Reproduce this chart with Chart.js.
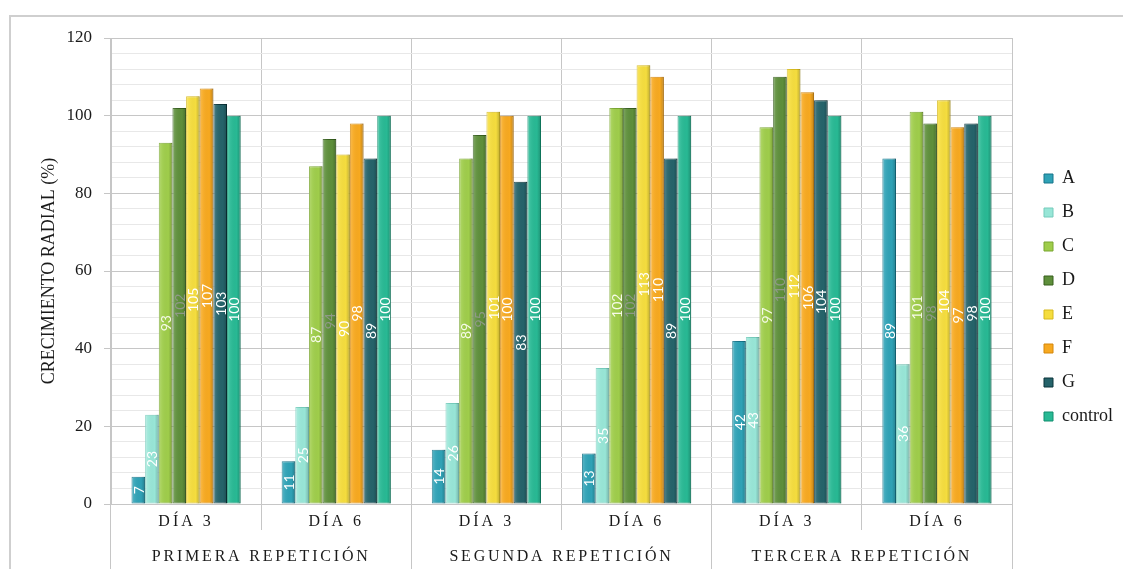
<!DOCTYPE html>
<html>
<head>
<meta charset="utf-8">
<title>Crecimiento radial</title>
<script src="https://cdn.jsdelivr.net/npm/chart.js@4.4.1/dist/chart.umd.min.js"></script>
<style>
  html, body { margin: 0; padding: 0; background: #ffffff; }
  #wrap { position: relative; width: 1123px; height: 569px; overflow: hidden; }
  #frame {
    position: absolute; left: 9px; top: 15px; width: 1200px; height: 600px;
    border-top: 2px solid #cfcfcf; border-left: 2px solid #cfcfcf;
    box-sizing: border-box; pointer-events: none;
  }
  canvas { position: absolute; left: 0; top: 0; }
</style>
</head>
<body>
<div id="wrap">
  <canvas id="chart" width="1123" height="569"></canvas>
  <div id="frame"></div>
</div>
<script>
// Day labels (inner axis) and repetition labels (outer axis)
const days = ['DÍA 3', 'DÍA 6', 'DÍA 3', 'DÍA 6', 'DÍA 3', 'DÍA 6'];
const repetitions = ['PRIMERA REPETICIÓN', 'SEGUNDA REPETICIÓN', 'TERCERA REPETICIÓN'];

// Radial growth (%) per treatment
const seriesA       = [7, 11, 14, 13, 42, 89];
const seriesB       = [23, 25, 26, 35, 43, 36];
const seriesC       = [93, 87, 89, 102, 97, 101];
const seriesD       = [102, 94, 95, 102, 110, 98];
const seriesE       = [105, 90, 101, 113, 112, 104];
const seriesF       = [107, 98, 100, 110, 106, 97];
const seriesG       = [103, 89, 83, 89, 104, 98];
const seriesControl = [100, 100, 100, 100, 100, 100];

// Value axis
const yMin = 0;
const yMax = 120;
const yMinorStep = 4;
const yMajorStep = 20;

const SERIF = '"Liberation Serif", "Times New Roman", serif';
const LETTER_SPACING = { x: 3, xGroup: 2.8 };

// Category scale that draws its labels with extra letter spacing
class SpacedCategoryScale extends Chart.CategoryScale {
  drawLabels(area) {
    const ctx = this.ctx;
    ctx.save();
    ctx.letterSpacing = (LETTER_SPACING[this.id] || 0) + 'px';
    super.drawLabels(area);
    ctx.restore();
  }
}
SpacedCategoryScale.id = 'spacedCategory';
SpacedCategoryScale.defaults = Chart.CategoryScale.defaults;
Chart.register(SpacedCategoryScale);

// Soft cylinder-like shading over each bar, then its value written inside, rotated
const barDecorations = {
  id: 'barDecorations',
  afterDatasetsDraw(chart) {
    const ctx = chart.ctx;
    chart.data.datasets.forEach((ds, i) => {
      const meta = chart.getDatasetMeta(i);
      if (meta.hidden) return;
      meta.data.forEach((bar) => {
        const half = bar.width / 2;
        const top = Math.min(bar.y, bar.base);
        const h = Math.abs(bar.base - bar.y);
        const g = ctx.createLinearGradient(bar.x - half, 0, bar.x + half, 0);
        g.addColorStop(0, 'rgba(255,255,255,0.22)');
        g.addColorStop(0.25, 'rgba(255,255,255,0.06)');
        g.addColorStop(0.7, 'rgba(0,0,0,0)');
        g.addColorStop(1, 'rgba(0,0,0,0.22)');
        ctx.save();
        ctx.fillStyle = g;
        ctx.fillRect(bar.x - half, top, bar.width, h);
        ctx.restore();
      });
    });
    chart.data.datasets.forEach((ds, i) => {
      const meta = chart.getDatasetMeta(i);
      if (meta.hidden) return;
      meta.data.forEach((bar, j) => {
        const cy = (bar.y + bar.base) / 2;
        ctx.save();
        ctx.translate(bar.x, cy);
        ctx.rotate(-Math.PI / 2);
        ctx.font = '14px Lato, "Open Sans", sans-serif';
        ctx.fillStyle = ds.valueColor || '#ffffff';
        ctx.textAlign = 'center';
        ctx.textBaseline = 'middle';
        ctx.fillText(String(ds.data[j]), 0, 1);
        ctx.restore();
      });
    });
  }
};

// Legend sits a little further right and higher than the default placement
const legendOffset = {
  id: 'legendOffset',
  afterLayout(chart) {
    const lg = chart.legend;
    if (!lg) return;
    lg.left += 16; lg.right += 16;
    lg.top -= 6; lg.bottom -= 6;
  }
};

function series(label, data, fill, edge, valueColor) {
  return {
    label, data,
    backgroundColor: fill,
    borderColor: edge,
    borderWidth: 1,
    borderSkipped: false,
    valueColor
  };
}

const isMajor = v => v % yMajorStep === 0;

new Chart(document.getElementById('chart'), {
  type: 'bar',
  data: {
    labels: days,
    datasets: [
      series('A',       seriesA,       '#2fa2b6', '#16758a', '#ffffff'),
      series('B',       seriesB,       '#98e6d7', '#74cbbb', '#ffffff'),
      series('C',       seriesC,       '#9fcd4b', '#79a630', '#f6fae8'),
      series('D',       seriesD,       '#5e8f3b', '#365f1d', '#8f9988'),
      series('E',       seriesE,       '#f5dd3e', '#d6b91c', '#ffffff'),
      series('F',       seriesF,       '#f7a920', '#d4860a', '#ffffff'),
      series('G',       seriesG,       '#25636a', '#0b343a', '#ffffff'),
      series('control', seriesControl, '#28b994', '#118e6e', '#ffffff')
    ]
  },
  options: {
    responsive: false,
    animation: false,
    devicePixelRatio: 1,
    layout: { padding: { left: 10, top: 38, right: 16, bottom: 0 } },
    datasets: {
      bar: { categoryPercentage: 0.727, barPercentage: 1.0 }
    },
    plugins: {
      tooltip: { enabled: false },
      legend: {
        position: 'right',
        align: 'center',
        labels: {
          boxWidth: 9,
          boxHeight: 9,
          padding: 16,
          color: '#1a1a1a',
          font: { family: SERIF, size: 18 }
        }
      }
    },
    scales: {
      x: {
        type: 'spacedCategory',
        position: 'bottom',
        offset: true,
        grid: {
          offset: true,
          color: '#c6c6c6',
          tickColor: '#c6c6c6',
          tickLength: 26,
          lineWidth: 1
        },
        border: { display: true, color: '#c6c6c6' },
        ticks: {
          autoSkip: false,
          maxRotation: 0,
          minRotation: 0,
          padding: -18,
          color: '#1a1a1a',
          font: { family: SERIF, size: 16 }
        },
        afterFit(scale) { scale.height = 26; }
      },
      xGroup: {
        type: 'spacedCategory',
        position: 'bottom',
        labels: repetitions,
        offset: true,
        grid: {
          offset: true,
          drawOnChartArea: false,
          color: '#c6c6c6',
          tickColor: '#c6c6c6',
          tickLength: 39,
          lineWidth: 1
        },
        border: { display: false },
        ticks: {
          autoSkip: false,
          maxRotation: 0,
          minRotation: 0,
          padding: -22,
          color: '#1a1a1a',
          font: { family: SERIF, size: 16 }
        },
        afterFit(scale) { scale.height = 39; }
      },
      y: {
        position: 'left',
        min: yMin,
        max: yMax,
        ticks: {
          stepSize: yMinorStep,
          autoSkip: false,
          padding: 12,
          color: '#1a1a1a',
          font: { family: SERIF, size: 17 },
          callback: v => (isMajor(v) ? v : '')
        },
        grid: {
          color: c => (isMajor(c.tick.value) ? '#c6c6c6' : '#e8e8e8'),
          tickColor: c => (isMajor(c.tick.value) ? '#c6c6c6' : 'rgba(0,0,0,0)'),
          tickLength: 7,
          lineWidth: 1
        },
        border: { display: true, color: '#c6c6c6' },
        title: {
          display: true,
          text: 'CRECIMIENTO RADIAL (%)',
          color: '#1a1a1a',
          font: { family: SERIF, size: 18 },
          padding: { top: 28, bottom: 0 }
        },
        afterFit(scale) { scale.width = 101; }
      }
    }
  },
  plugins: [barDecorations, legendOffset]
});
</script>
</body>
</html>
